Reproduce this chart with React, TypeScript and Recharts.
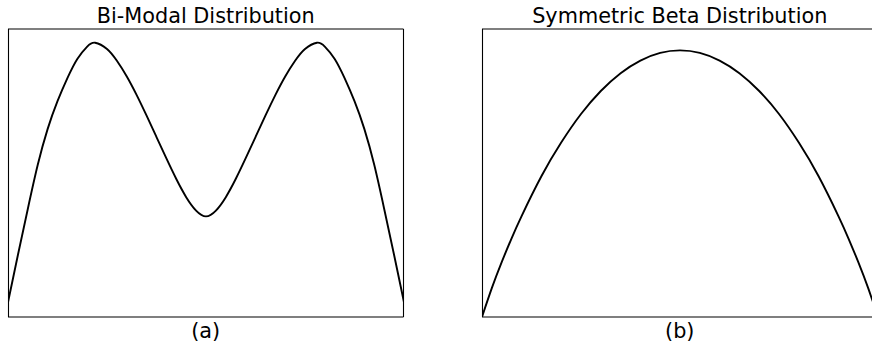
import React from 'react';
import { LineChart, Line, XAxis, YAxis } from 'recharts';

const bimodalX = [0, 0.025, 0.05, 0.075, 0.1, 0.125, 0.15, 0.175, 0.2, 0.22, 0.25, 0.275, 0.3, 0.325, 0.35, 0.375, 0.4, 0.425, 0.45, 0.475, 0.5,
  0.525, 0.55, 0.575, 0.6, 0.625, 0.65, 0.675, 0.7, 0.725, 0.75, 0.78, 0.8, 0.825, 0.85, 0.875, 0.9, 0.925, 0.95, 0.975, 1.0];
const bimodalY = [0.054, 0.226, 0.394, 0.554, 0.685, 0.787, 0.871, 0.941, 0.986, 1.0, 0.977, 0.934, 0.877, 0.809, 0.734, 0.656, 0.578, 0.503, 0.437, 0.388, 0.367,
  0.388, 0.437, 0.503, 0.578, 0.656, 0.734, 0.809, 0.877, 0.934, 0.977, 1.0, 0.986, 0.941, 0.871, 0.787, 0.685, 0.554, 0.394, 0.226, 0.054];

const betaX = [0, 0.025, 0.05, 0.075, 0.1, 0.15, 0.2, 0.25, 0.3, 0.35, 0.4, 0.45, 0.5,
  0.55, 0.6, 0.65, 0.7, 0.75, 0.8, 0.85, 0.9, 0.925, 0.95, 0.975, 1.0];
const betaY = [0, 0.106, 0.201, 0.288, 0.368, 0.513, 0.636, 0.74, 0.824, 0.889, 0.935, 0.963, 0.972,
  0.963, 0.935, 0.889, 0.824, 0.74, 0.636, 0.513, 0.368, 0.288, 0.201, 0.106, 0];

const titles = ['Bi-Modal Distribution', 'Symmetric Beta Distribution'];
const captions = ['(a)', '(b)'];

const bimodalData = bimodalX.map((x, i) => ({ x, y: bimodalY[i] }));
const betaData = betaX.map((x, i) => ({ x, y: betaY[i] }));

const FONT = '"DejaVu Sans", sans-serif';

function Panel({ data, left }: { data: { x: number; y: number }[]; left: number }) {
  return (
    <div style={{ position: 'absolute', left, top: 29, width: 396, height: 288 }}>
      <LineChart width={396} height={288} data={data} margin={{ top: 0, right: 0, bottom: 0, left: 0 }}>
        <XAxis dataKey="x" type="number" domain={[0, 1]} hide />
        <YAxis type="number" domain={[0, 1.05]} hide width={0} />
        <Line type="natural" dataKey="y" stroke="#000" strokeWidth={1.9} dot={false} isAnimationActive={false} />
      </LineChart>
    </div>
  );
}

export default function App() {
  const panels = [
    { left: 8, data: bimodalData },
    { left: 482, data: betaData },
  ];
  return (
    <div style={{ position: 'absolute', left: 0, top: 0, width: 872, height: 343, overflow: 'hidden', background: '#fff' }}>
      <svg width={872} height={343} style={{ position: 'absolute', left: 0, top: 0 }}>
        {panels.map((p, i) => {
          const x0 = p.left;
          const x1 = p.left + 395.5;
          const cx = (x0 + x1) / 2;
          return (
            <g key={i}>
              <line x1={x0 + 0.5} y1={29} x2={x0 + 0.5} y2={317} stroke="#000" strokeWidth={1.1} />
              <line x1={x1} y1={29} x2={x1} y2={317} stroke="#000" strokeWidth={1.1} />
              <line x1={x0} y1={29} x2={x1} y2={29} stroke="#000" strokeWidth={1.1} />
              <line x1={x0} y1={317} x2={x1} y2={317} stroke="#000" strokeWidth={1.1} />
              <text x={cx} y={22.7} textAnchor="middle" fontFamily={FONT} fontSize={20.8} fill="#000">{titles[i]}</text>
              <text x={cx} y={337.5} textAnchor="middle" fontFamily={FONT} fontSize={20.8} fill="#000">{captions[i]}</text>
            </g>
          );
        })}
      </svg>
      {panels.map((p, i) => (
        <Panel key={i} data={p.data} left={p.left} />
      ))}
    </div>
  );
}
